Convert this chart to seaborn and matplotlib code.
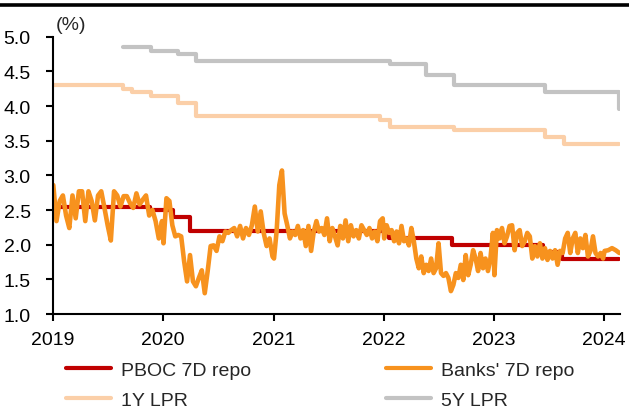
import numpy as np
import pandas as pd
import matplotlib
matplotlib.use('Agg')
import matplotlib.pyplot as plt
import matplotlib.dates as mdates
from matplotlib.lines import Line2D
import seaborn as sns

# ---------------- data ----------------
# policy rate step series: change dates and the level from that date
pboc_dates = ['2019-01-02', '2019-11-18', '2020-02-03', '2020-03-30', '2022-01-17',
              '2022-08-15', '2023-06-13', '2023-08-15', '2024-02-20']
pboc_rate = [2.55, 2.50, 2.40, 2.20, 2.10, 2.00, 1.90, 1.80, 1.80]

lpr1y_dates = ['2019-01-02', '2019-08-20', '2019-09-20', '2019-11-20', '2020-02-20',
               '2020-04-20', '2021-12-20', '2022-01-20', '2022-08-22', '2023-06-20',
               '2023-08-21', '2024-02-20']
lpr1y_rate = [4.31, 4.25, 4.20, 4.15, 4.05, 3.85, 3.80, 3.70, 3.65, 3.55, 3.45, 3.45]

lpr5y_dates = ['2019-08-20', '2019-11-20', '2020-02-20', '2020-04-20', '2022-01-20',
               '2022-05-20', '2022-08-22', '2023-06-20', '2024-02-20']
lpr5y_rate = [4.85, 4.80, 4.75, 4.65, 4.60, 4.45, 4.30, 4.20, 3.95]

# banks' 7D repo, roughly 10-day readings per calendar year
repo_2019 = [2.86, 2.34, 2.63, 2.71, 2.42, 2.24, 2.71, 2.38, 2.77, 2.77, 2.34, 2.77,
             2.63, 2.35, 2.71, 2.77, 2.53, 2.28, 2.06, 2.77, 2.71, 2.55, 2.70, 2.70,
             2.60, 2.53, 2.74, 2.58, 2.65, 2.71, 2.42, 2.50, 2.34, 2.09, 2.34]
repo_2020 = [2.02, 2.67, 2.63, 2.28, 2.12, 2.14, 2.12, 1.76, 1.47, 1.85, 1.47, 1.40,
             1.52, 1.63, 1.30, 1.62, 1.98, 1.99, 1.91, 2.12, 2.05, 2.19, 2.17, 2.21,
             2.24, 2.12, 2.27, 2.09, 2.24, 2.14, 2.28, 2.55, 2.19, 2.48, 2.17, 1.98,
             2.09, 1.83]
repo_2021 = [1.80, 2.20, 2.86, 3.07, 2.45, 2.28, 2.09, 2.19, 2.14, 2.27, 2.09, 2.21,
             1.98, 2.27, 1.91, 2.19, 2.34, 2.19, 2.24, 2.14, 2.38, 2.05, 2.24, 2.12,
             1.99, 2.27, 2.09, 2.35, 2.05, 2.28, 2.12, 2.21, 2.09, 2.28, 2.21, 2.14,
             2.24, 2.09, 2.19, 2.05, 2.34, 2.38]
repo_2022 = [2.09, 2.28, 2.17, 2.21, 2.05, 2.19, 2.02, 2.27, 2.05, 2.09, 1.99, 2.24,
             2.05, 1.80, 1.66, 1.83, 1.59, 1.71, 1.62, 1.80, 1.59, 1.66, 2.02, 1.59,
             1.55, 1.59, 1.52, 1.33, 1.42, 1.59, 1.52, 1.71, 1.49, 1.85, 1.56, 1.71,
             1.92, 1.80, 1.62, 1.88, 1.66, 1.80, 1.62, 1.80, 2.17]
repo_2023 = [1.56, 2.21, 2.09, 2.24, 2.02, 2.12, 2.27, 2.28, 1.92, 2.17, 2.21, 1.98,
             2.05, 2.17, 2.12, 1.80, 1.98, 1.83, 2.02, 1.80, 1.95, 1.78, 1.91, 1.80,
             1.92, 1.71, 1.91, 1.88, 2.09, 2.17, 1.88, 2.09, 2.17, 1.88, 2.09, 1.95,
             2.14, 1.83, 1.91, 2.12, 1.88, 1.83, 1.88, 1.80]
repo_2024 = [1.91, 1.92, 1.95, 1.92, 1.88]

year_labels = ['2019', '2020', '2021', '2022', '2023', '2024']

# ---------------- build frames ----------------
pboc_df = pd.DataFrame({'date': pd.to_datetime(pboc_dates), 'rate': pboc_rate})
lpr1y_df = pd.DataFrame({'date': pd.to_datetime(lpr1y_dates), 'rate': lpr1y_rate})
lpr5y_df = pd.DataFrame({'date': pd.to_datetime(lpr5y_dates), 'rate': lpr5y_rate})

repo_parts = []
for yr, vals in zip(year_labels, [repo_2019, repo_2020, repo_2021, repo_2022, repo_2023, repo_2024]):
    end = f'{yr}-12-28' if yr != '2024' else '2024-02-20'
    d = pd.date_range(f'{yr}-01-02', end, periods=len(vals))
    repo_parts.append(pd.DataFrame({'date': d, 'rate': vals}))
repo_df = pd.concat(repo_parts, ignore_index=True)

# ---------------- plotting ----------------
sns.set_style('white')
plt.rcParams['font.family'] = ['Liberation Sans', 'DejaVu Sans']
fs = 14

c_pboc = '#C00000'
c_repo = '#F7921E'
c_1y = '#FBCFA8'
c_5y = '#C3C3C3'

fig = plt.figure(figsize=(6.29, 4.14), dpi=100)
ax = fig.add_axes([53 / 629, 1 - 315 / 414, (620 - 53) / 629, (315 - 37.7) / 414])

sns.lineplot(data=lpr5y_df, x='date', y='rate', ax=ax, color=c_5y, lw=3,
             drawstyle='steps-post', estimator=None)
sns.lineplot(data=lpr1y_df, x='date', y='rate', ax=ax, color=c_1y, lw=3,
             drawstyle='steps-post', estimator=None)
sns.lineplot(data=pboc_df, x='date', y='rate', ax=ax, color=c_pboc, lw=3,
             drawstyle='steps-post', estimator=None)
sns.lineplot(data=repo_df, x='date', y='rate', ax=ax, color=c_repo, lw=3.3,
             estimator=None)

# format axes
ax.set_ylim(1.0, 5.0)
ax.set_yticks(np.arange(1.0, 5.01, 0.5))
ax.yaxis.set_major_formatter(matplotlib.ticker.FormatStrFormatter('%.1f'))
ax.set_xlim(pd.Timestamp('2019-01-01'), pd.Timestamp('2024-02-22'))
ax.set_xticks(pd.to_datetime([f'{y}-01-01' for y in year_labels]))
ax.xaxis.set_major_formatter(mdates.DateFormatter('%Y'))
ax.set_xlabel('')
ax.set_ylabel('')

sns.despine(ax=ax, top=True, right=True)
for s in ['left', 'bottom']:
    ax.spines[s].set_color('black')
    ax.spines[s].set_linewidth(1.5)
ax.tick_params(axis='both', which='major', direction='out', length=5, width=1.5,
               colors='black', labelsize=fs, labelcolor='black')
ax.tick_params(axis='y', pad=11)
ax.tick_params(axis='x', pad=7.5)
ax.tick_params(left=True, bottom=True)

# unit label and header rule
fig.text(71 / 629, 1 - 25 / 414, '(%)', ha='center', va='center', fontsize=fs)
fig.add_artist(Line2D([0, 1], [0.986, 0.986], transform=fig.transFigure,
                      color='black', lw=2.6))

# legend, two columns below the plot
handles = [Line2D([], [], color=c_pboc, lw=3), Line2D([], [], color=c_1y, lw=3),
           Line2D([], [], color=c_repo, lw=3), Line2D([], [], color=c_5y, lw=3)]
labels = ['PBOC 7D repo', '1Y LPR', "Banks' 7D repo", '5Y LPR']
fig.legend(handles, labels, ncol=2, loc='upper left',
           bbox_to_anchor=(66 / 629, 1 - 362 / 414), frameon=False, fontsize=fs,
           borderpad=0, borderaxespad=0, handlelength=2.32, handletextpad=0.52,
           columnspacing=6.9, labelspacing=0.66)

plt.savefig('out.png', dpi=100)
